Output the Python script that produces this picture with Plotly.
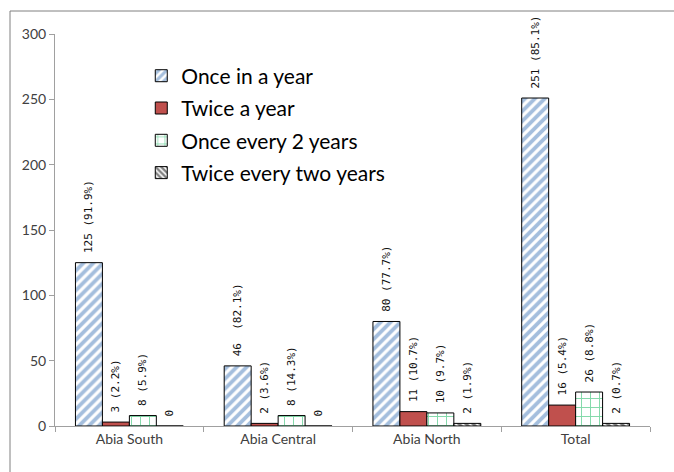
import plotly.graph_objects as go

categories = ["Abia South", "Abia Central", "Abia North", "Total"]
series_names = ["Once in a year", "Twice a year", "Once every 2 years", "Twice every two years"]
once_year = [125, 46, 80, 251]
twice_year = [3, 2, 11, 16]
once_2y = [8, 8, 10, 26]
twice_2y = [0, 0, 2, 2]
labels_once_year = ["125 (91.9%)", "46  (82.1%)", "80 (77.7%)", "251 (85.1%)"]
labels_twice_year = ["3 (2.2%)", "2 (3.6%)", "11 (10.7%)", "16 (5.4%)"]
labels_once_2y = ["8 (5.9%)", "8 (14.3%)", "10 (9.7%)", "26 (8.8%)"]
labels_twice_2y = ["0", "0", "2 (1.9%)", "2 (0.7%)"]

styles = [
    dict(pattern=dict(shape="/", fgcolor="#4a7ebb", bgcolor="white", size=7, solidity=0.55), color="white"),
    dict(color="#c0504d"),
    dict(pattern=dict(shape="+", fgcolor="#00b050", bgcolor="white", size=9, solidity=0.2), color="white"),
    dict(pattern=dict(shape="\\", fgcolor="black", bgcolor="white", size=5, solidity=0.6), color="white"),
]

fig = go.Figure()
for i, (name, vals, labs, st) in enumerate(zip(series_names,
                                [once_year, twice_year, once_2y, twice_2y],
                                [labels_once_year, labels_twice_year, labels_once_2y, labels_twice_2y],
                                styles)):
    marker = dict(st)
    marker["line"] = dict(color="black", width=1)
    fig.add_trace(go.Bar(
        x=categories, y=vals, name=name, marker=marker, legendgroup=f"g{i}",
        text=["\u00a0" + t for t in labs], textposition="outside", textangle=-90, constraintext="none",
        textfont=dict(family="DejaVu Sans Mono, monospace", size=11, color="#111"),
        cliponaxis=False,
    ))

fig.update_layout(
    width=674, height=472,
    margin=dict(l=55, r=24, t=34, b=46),
    paper_bgcolor="white", plot_bgcolor="white",
    barmode="group", bargap=0.275, bargroupgap=0,
    font=dict(family="Lato, sans-serif", color="#404040"),
    showlegend=True,
    legend=dict(x=0.145, y=0.945, xanchor="left", yanchor="top",
                font=dict(size=21, color="black", family="Lato, sans-serif"),
                bgcolor="rgba(0,0,0,0)", itemwidth=30, tracegroupgap=2),
)
fig.update_xaxes(showline=True, linecolor="#a0a0a0", linewidth=1,
                 ticks="outside", tickson="boundaries", ticklen=5, tickcolor="#a0a0a0",
                 tickfont=dict(size=14, color="#404040"), showgrid=False)
fig.update_yaxes(range=[0, 300], dtick=50, showline=True, linecolor="#a0a0a0", linewidth=1,
                 ticks="outside", ticklen=5, tickcolor="#a0a0a0", showgrid=False, zeroline=False,
                 tickfont=dict(size=14, color="#404040"))
fig.add_shape(type="rect", xref="paper", yref="paper",
              x0=-45/595, y0=-60/392, x1=1.2, y1=1 + 23/392,
              line=dict(color="#808080", width=1), fillcolor="rgba(0,0,0,0)", layer="below")

fig.write_html("out.html")
